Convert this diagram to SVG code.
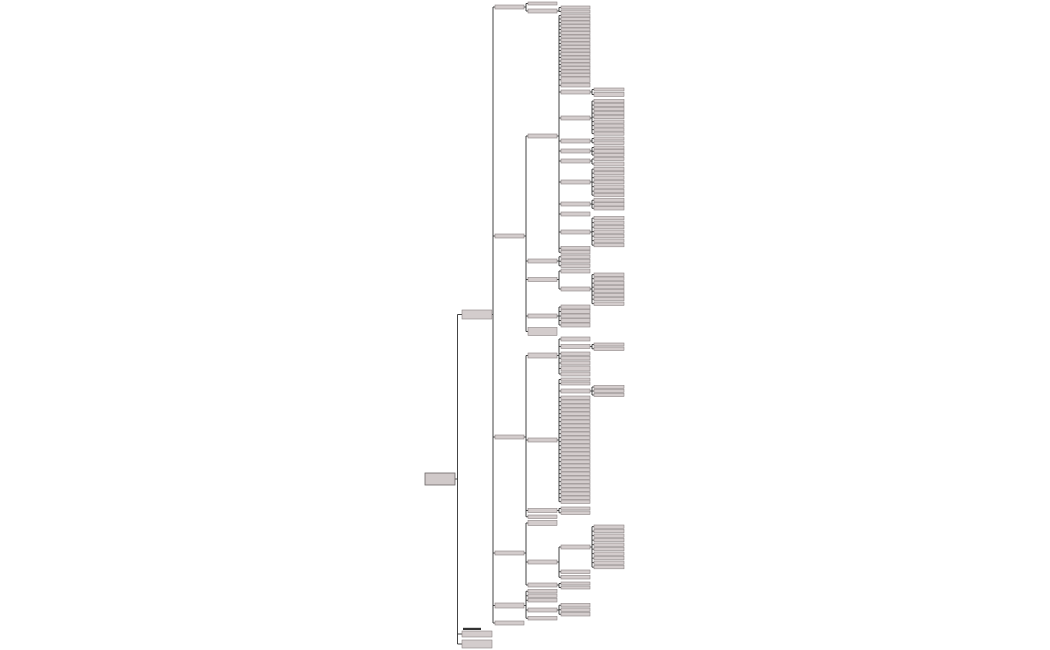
<svg xmlns="http://www.w3.org/2000/svg" width="1050" height="650" viewBox="0 0 1050 650">
<style>
.b{fill:#d3cccc;stroke:#8a8383;stroke-width:0.6}
.r{fill:#d0c9c9;stroke:#6a6565;stroke-width:0.8}
.c{fill:none;stroke:#2f2f2f;stroke-width:0.9}
</style>
<rect width="1050" height="650" fill="#ffffff"/>
<g id="connectors" class="c">
<path d="M455,479H457.5M457.5,314.5V644M457.5,314.5H462M457.5,634H462M457.5,644H462"/>
<path d="M492,314.5H493M493,7V623M493,7H495M493,236H495M493,437H495M493,553H495M493,605.5H495M493,623H495"/>
<path d="M524,7H526M526,3.5V11M526,3.5H528M526,11H528"/>
<path d="M524,236H526M526,136V331.5M526,136H528M526,261H528M526,279.5H528M526,316H528M526,331.5H528"/>
<path d="M524,437H526M526,355.5V516.75M526,355.5H528M526,440H528M526,510.5H528M526,516.75H528"/>
<path d="M524,553H526M526,523V585M526,523H528M526,562H528M526,585H528"/>
<path d="M524,605.5H526M526,591.25V618.25M526,591.25H528M526,595.75H528M526,600.25H528M526,610H528M526,618.25H528"/>
<path d="M557,11H559M559,7.5V11.5M559,7.5H561M559,11.5H561"/>
<path d="M557,136H559M559,15.5V252.25M559,15.5H561M559,19H561M559,22.5H561M559,26H561M559,29.5H561M559,33H561M559,36.5H561M559,40H561M559,43.5H561M559,47H561M559,50.5H561M559,54H561M559,57.5H561M559,61H561M559,64.5H561M559,68H561M559,71.5H561M559,75H561M559,79.75H561M559,85.25H561M559,92H561M559,118H561M559,141H561M559,151H561M559,161H561M559,182H561M559,204H561M559,214H561M559,232H561M559,248.25H561M559,252.25H561"/>
<path d="M557,261H559M559,256.75V265.75M559,256.75H561M559,261.25H561M559,265.75H561"/>
<path d="M557,279.5H559M559,271V289M559,271H561M559,289H561"/>
<path d="M557,316H559M559,307V325M559,307H561M559,311.5H561M559,316H561M559,320.5H561M559,325H561"/>
<path d="M557,355.5H559M559,339V374M559,339H561M559,346.5H561M559,353.75H561M559,358.25H561M559,363H561M559,368.5H561M559,374H561"/>
<path d="M557,440H559M559,379.5V501.65M559,379.5H561M559,383.5H561M559,391H561M559,397.65H561M559,401.65H561M559,405.65H561M559,409.65H561M559,413.65H561M559,417.65H561M559,421.65H561M559,425.65H561M559,429.65H561M559,433.65H561M559,437.65H561M559,441.65H561M559,445.65H561M559,449.65H561M559,453.65H561M559,457.65H561M559,461.65H561M559,465.65H561M559,469.65H561M559,473.65H561M559,477.65H561M559,481.65H561M559,485.65H561M559,489.65H561M559,493.65H561M559,497.65H561M559,501.65H561"/>
<path d="M557,510.5H559M559,508.5V512.75M559,508.5H561M559,512.75H561"/>
<path d="M557,562H559M559,547V577.25M559,547H561M559,571.75H561M559,577.25H561"/>
<path d="M557,585H559M559,583.5V587.5M559,583.5H561M559,587.5H561"/>
<path d="M557,610H559M559,605.25V614.25M559,605.25H561M559,609.75H561M559,614.25H561"/>
<path d="M590,92H592M592,89.5V94.5M592,89.5H594M592,94.5H594"/>
<path d="M590,118H592M592,101.1V133.6M592,101.1H594M592,105.1H594M592,109.1H594M592,113.1H594M592,117.1H594M592,121.6H594M592,125.6H594M592,129.6H594M592,133.6H594"/>
<path d="M590,141H592M592,138.5V142.75M592,138.5H594M592,142.75H594"/>
<path d="M590,151H592M592,147.5V155M592,147.5H594M592,151.25H594M592,155H594"/>
<path d="M590,161H592M592,159V164M592,159H594M592,164H594"/>
<path d="M590,182H592M592,169.15V195.15M592,169.15H594M592,173.15H594M592,177.65H594M592,182.15H594M592,186.65H594M592,191.15H594M592,195.15H594"/>
<path d="M590,204H592M592,200.25V208.25M592,200.25H594M592,204.25H594M592,208.25H594"/>
<path d="M590,232H592M592,218.15V245.15M592,218.15H594M592,222.65H594M592,227.15H594M592,231.65H594M592,236.15H594M592,240.65H594M592,245.15H594"/>
<path d="M590,289H592M592,274.65V303.65M592,274.65H594M592,278.65H594M592,283.15H594M592,287.15H594M592,291.15H594M592,295.15H594M592,299.15H594M592,303.65H594"/>
<path d="M590,346.5H592M592,344.5V348.75M592,344.5H594M592,348.75H594"/>
<path d="M590,391H592M592,387V395M592,387H594M592,391H594M592,395H594"/>
<path d="M590,547H592M592,526.65V567.15M592,526.65H594M592,531.15H594M592,535.65H594M592,540.15H594M592,544.65H594M592,549.15H594M592,553.65H594M592,558.15H594M592,562.65H594M592,567.15H594"/>
</g>
<g id="root"><rect class="r" x="425" y="473" width="30" height="12"/></g>
<g id="n1"><rect class="b" x="462" y="310" width="30" height="9"/></g>
<g id="n2"><rect x="463" y="627.8" width="18" height="2.2" fill="#333333"/><rect class="b" x="462" y="631" width="30" height="6"/></g>
<g id="n3"><rect class="b" x="462" y="640" width="30" height="8"/></g>
<g id="a1"><rect class="b" x="495" y="5" width="29" height="4"/></g>
<g id="a2"><rect class="b" x="495" y="234" width="29" height="4"/></g>
<g id="a3"><rect class="b" x="495" y="435" width="29" height="4"/></g>
<g id="a4"><rect class="b" x="495" y="551" width="29" height="4"/></g>
<g id="a5"><rect class="b" x="495" y="603" width="29" height="5"/></g>
<g id="a6"><rect class="b" x="495" y="621" width="29" height="4"/></g>
<g id="c3-1"><rect class="b" x="528" y="2" width="29" height="3"/></g>
<g id="c3-2"><rect class="b" x="528" y="9" width="29" height="4"/></g>
<g id="c3-3"><rect class="b" x="528" y="134" width="29" height="4"/></g>
<g id="c3-4"><rect class="b" x="528" y="259" width="29" height="4"/></g>
<g id="c3-5"><rect class="b" x="528" y="277.5" width="29" height="4"/></g>
<g id="c3-6"><rect class="b" x="528" y="314" width="29" height="4"/></g>
<g id="c3-7"><rect class="b" x="528" y="327.5" width="29" height="8"/></g>
<g id="c3-8"><rect class="b" x="528" y="353" width="29" height="5"/></g>
<g id="c3-9"><rect class="b" x="528" y="438" width="29" height="4"/></g>
<g id="c3-10"><rect class="b" x="528" y="508.5" width="29" height="4"/></g>
<g id="c3-11"><rect class="b" x="528" y="515" width="29" height="3.5"/></g>
<g id="c3-12"><rect class="b" x="528" y="520.5" width="29" height="5"/></g>
<g id="c3-13"><rect class="b" x="528" y="560" width="29" height="4"/></g>
<g id="c3-14"><rect class="b" x="528" y="583" width="29" height="4"/></g>
<g id="c3-15"><rect class="b" x="528" y="589.5" width="29" height="3.5"/></g>
<g id="c3-16"><rect class="b" x="528" y="594" width="29" height="3.5"/></g>
<g id="c3-17"><rect class="b" x="528" y="598.5" width="29" height="3.5"/></g>
<g id="c3-18"><rect class="b" x="528" y="608" width="29" height="4"/></g>
<g id="c3-19"><rect class="b" x="528" y="616.5" width="29" height="3.5"/></g>
<g id="c4-1"><rect class="b" x="561" y="6" width="29" height="3"/></g>
<g id="c4-2"><rect class="b" x="561" y="10" width="29" height="3"/></g>
<g id="c4-3"><rect class="b" x="561" y="14" width="29" height="3"/></g>
<g id="c4-4"><rect class="b" x="561" y="17.5" width="29" height="3"/></g>
<g id="c4-5"><rect class="b" x="561" y="21" width="29" height="3"/></g>
<g id="c4-6"><rect class="b" x="561" y="24.5" width="29" height="3"/></g>
<g id="c4-7"><rect class="b" x="561" y="28" width="29" height="3"/></g>
<g id="c4-8"><rect class="b" x="561" y="31.5" width="29" height="3"/></g>
<g id="c4-9"><rect class="b" x="561" y="35" width="29" height="3"/></g>
<g id="c4-10"><rect class="b" x="561" y="38.5" width="29" height="3"/></g>
<g id="c4-11"><rect class="b" x="561" y="42" width="29" height="3"/></g>
<g id="c4-12"><rect class="b" x="561" y="45.5" width="29" height="3"/></g>
<g id="c4-13"><rect class="b" x="561" y="49" width="29" height="3"/></g>
<g id="c4-14"><rect class="b" x="561" y="52.5" width="29" height="3"/></g>
<g id="c4-15"><rect class="b" x="561" y="56" width="29" height="3"/></g>
<g id="c4-16"><rect class="b" x="561" y="59.5" width="29" height="3"/></g>
<g id="c4-17"><rect class="b" x="561" y="63" width="29" height="3"/></g>
<g id="c4-18"><rect class="b" x="561" y="66.5" width="29" height="3"/></g>
<g id="c4-19"><rect class="b" x="561" y="70" width="29" height="3"/></g>
<g id="c4-20"><rect class="b" x="561" y="73.5" width="29" height="3"/></g>
<g id="c4-21"><rect class="b" x="561" y="77" width="29" height="5.5"/></g>
<g id="c4-22"><rect class="b" x="561" y="83.5" width="29" height="3.5"/></g>
<g id="c4-23"><rect class="b" x="561" y="90" width="29" height="4"/></g>
<g id="c4-24"><rect class="b" x="561" y="116" width="29" height="4"/></g>
<g id="c4-25"><rect class="b" x="561" y="139" width="29" height="4"/></g>
<g id="c4-26"><rect class="b" x="561" y="149" width="29" height="4"/></g>
<g id="c4-27"><rect class="b" x="561" y="159" width="29" height="4"/></g>
<g id="c4-28"><rect class="b" x="561" y="180" width="29" height="4"/></g>
<g id="c4-29"><rect class="b" x="561" y="202" width="29" height="4"/></g>
<g id="c4-30"><rect class="b" x="561" y="212" width="29" height="4"/></g>
<g id="c4-31"><rect class="b" x="561" y="230" width="29" height="4"/></g>
<g id="c4-32"><rect class="b" x="561" y="246.5" width="29" height="3.5"/></g>
<g id="c4-33"><rect class="b" x="561" y="250.5" width="29" height="3.5"/></g>
<g id="c4-34"><rect class="b" x="561" y="255" width="29" height="3.5"/></g>
<g id="c4-35"><rect class="b" x="561" y="259.5" width="29" height="3.5"/></g>
<g id="c4-36"><rect class="b" x="561" y="264" width="29" height="3.5"/></g>
<g id="c4-37"><rect class="b" x="561" y="269" width="29" height="4"/></g>
<g id="c4-38"><rect class="b" x="561" y="287" width="29" height="4"/></g>
<g id="c4-39"><rect class="b" x="561" y="305" width="29" height="4"/></g>
<g id="c4-40"><rect class="b" x="561" y="309.5" width="29" height="4"/></g>
<g id="c4-41"><rect class="b" x="561" y="314" width="29" height="4"/></g>
<g id="c4-42"><rect class="b" x="561" y="318.5" width="29" height="4"/></g>
<g id="c4-43"><rect class="b" x="561" y="323" width="29" height="4"/></g>
<g id="c4-44"><rect class="b" x="561" y="337" width="29" height="4"/></g>
<g id="c4-45"><rect class="b" x="561" y="344.5" width="29" height="4"/></g>
<g id="c4-46"><rect class="b" x="561" y="352" width="29" height="3.5"/></g>
<g id="c4-47"><rect class="b" x="561" y="356.5" width="29" height="3.5"/></g>
<g id="c4-48"><rect class="b" x="561" y="361" width="29" height="4"/></g>
<g id="c4-49"><rect class="b" x="561" y="366" width="29" height="5"/></g>
<g id="c4-50"><rect class="b" x="561" y="372" width="29" height="4"/></g>
<g id="c4-51"><rect class="b" x="561" y="378" width="29" height="3"/></g>
<g id="c4-52"><rect class="b" x="561" y="382" width="29" height="3"/></g>
<g id="c4-53"><rect class="b" x="561" y="389" width="29" height="4"/></g>
<g id="c4-54"><rect class="b" x="561" y="396" width="29" height="3.3"/></g>
<g id="c4-55"><rect class="b" x="561" y="400" width="29" height="3.3"/></g>
<g id="c4-56"><rect class="b" x="561" y="404" width="29" height="3.3"/></g>
<g id="c4-57"><rect class="b" x="561" y="408" width="29" height="3.3"/></g>
<g id="c4-58"><rect class="b" x="561" y="412" width="29" height="3.3"/></g>
<g id="c4-59"><rect class="b" x="561" y="416" width="29" height="3.3"/></g>
<g id="c4-60"><rect class="b" x="561" y="420" width="29" height="3.3"/></g>
<g id="c4-61"><rect class="b" x="561" y="424" width="29" height="3.3"/></g>
<g id="c4-62"><rect class="b" x="561" y="428" width="29" height="3.3"/></g>
<g id="c4-63"><rect class="b" x="561" y="432" width="29" height="3.3"/></g>
<g id="c4-64"><rect class="b" x="561" y="436" width="29" height="3.3"/></g>
<g id="c4-65"><rect class="b" x="561" y="440" width="29" height="3.3"/></g>
<g id="c4-66"><rect class="b" x="561" y="444" width="29" height="3.3"/></g>
<g id="c4-67"><rect class="b" x="561" y="448" width="29" height="3.3"/></g>
<g id="c4-68"><rect class="b" x="561" y="452" width="29" height="3.3"/></g>
<g id="c4-69"><rect class="b" x="561" y="456" width="29" height="3.3"/></g>
<g id="c4-70"><rect class="b" x="561" y="460" width="29" height="3.3"/></g>
<g id="c4-71"><rect class="b" x="561" y="464" width="29" height="3.3"/></g>
<g id="c4-72"><rect class="b" x="561" y="468" width="29" height="3.3"/></g>
<g id="c4-73"><rect class="b" x="561" y="472" width="29" height="3.3"/></g>
<g id="c4-74"><rect class="b" x="561" y="476" width="29" height="3.3"/></g>
<g id="c4-75"><rect class="b" x="561" y="480" width="29" height="3.3"/></g>
<g id="c4-76"><rect class="b" x="561" y="484" width="29" height="3.3"/></g>
<g id="c4-77"><rect class="b" x="561" y="488" width="29" height="3.3"/></g>
<g id="c4-78"><rect class="b" x="561" y="492" width="29" height="3.3"/></g>
<g id="c4-79"><rect class="b" x="561" y="496" width="29" height="3.3"/></g>
<g id="c4-80"><rect class="b" x="561" y="500" width="29" height="3.3"/></g>
<g id="c4-81"><rect class="b" x="561" y="507" width="29" height="3"/></g>
<g id="c4-82"><rect class="b" x="561" y="511" width="29" height="3.5"/></g>
<g id="c4-83"><rect class="b" x="561" y="545" width="29" height="4"/></g>
<g id="c4-84"><rect class="b" x="561" y="570" width="29" height="3.5"/></g>
<g id="c4-85"><rect class="b" x="561" y="575.5" width="29" height="3.5"/></g>
<g id="c4-86"><rect class="b" x="561" y="582" width="29" height="3"/></g>
<g id="c4-87"><rect class="b" x="561" y="586" width="29" height="3"/></g>
<g id="c4-88"><rect class="b" x="561" y="603.5" width="29" height="3.5"/></g>
<g id="c4-89"><rect class="b" x="561" y="608" width="29" height="3.5"/></g>
<g id="c4-90"><rect class="b" x="561" y="612.5" width="29" height="3.5"/></g>
<g id="c5-1"><rect class="b" x="594" y="88" width="30" height="3"/></g>
<g id="c5-2"><rect class="b" x="594" y="92.5" width="30" height="4"/></g>
<g id="c5-3"><rect class="b" x="594" y="99.5" width="30" height="3.2"/></g>
<g id="c5-4"><rect class="b" x="594" y="103.5" width="30" height="3.2"/></g>
<g id="c5-5"><rect class="b" x="594" y="107.5" width="30" height="3.2"/></g>
<g id="c5-6"><rect class="b" x="594" y="111.5" width="30" height="3.2"/></g>
<g id="c5-7"><rect class="b" x="594" y="115.5" width="30" height="3.2"/></g>
<g id="c5-8"><rect class="b" x="594" y="120" width="30" height="3.2"/></g>
<g id="c5-9"><rect class="b" x="594" y="124" width="30" height="3.2"/></g>
<g id="c5-10"><rect class="b" x="594" y="128" width="30" height="3.2"/></g>
<g id="c5-11"><rect class="b" x="594" y="132" width="30" height="3.2"/></g>
<g id="c5-12"><rect class="b" x="594" y="137" width="30" height="3"/></g>
<g id="c5-13"><rect class="b" x="594" y="141" width="30" height="3.5"/></g>
<g id="c5-14"><rect class="b" x="594" y="146" width="30" height="3"/></g>
<g id="c5-15"><rect class="b" x="594" y="149.5" width="30" height="3.5"/></g>
<g id="c5-16"><rect class="b" x="594" y="153.5" width="30" height="3"/></g>
<g id="c5-17"><rect class="b" x="594" y="157.5" width="30" height="3"/></g>
<g id="c5-18"><rect class="b" x="594" y="162" width="30" height="4"/></g>
<g id="c5-19"><rect class="b" x="594" y="167.5" width="30" height="3.3"/></g>
<g id="c5-20"><rect class="b" x="594" y="171.5" width="30" height="3.3"/></g>
<g id="c5-21"><rect class="b" x="594" y="176" width="30" height="3.3"/></g>
<g id="c5-22"><rect class="b" x="594" y="180.5" width="30" height="3.3"/></g>
<g id="c5-23"><rect class="b" x="594" y="185" width="30" height="3.3"/></g>
<g id="c5-24"><rect class="b" x="594" y="189.5" width="30" height="3.3"/></g>
<g id="c5-25"><rect class="b" x="594" y="193.5" width="30" height="3.3"/></g>
<g id="c5-26"><rect class="b" x="594" y="198.5" width="30" height="3.5"/></g>
<g id="c5-27"><rect class="b" x="594" y="202.5" width="30" height="3.5"/></g>
<g id="c5-28"><rect class="b" x="594" y="206.5" width="30" height="3.5"/></g>
<g id="c5-29"><rect class="b" x="594" y="216.5" width="30" height="3.3"/></g>
<g id="c5-30"><rect class="b" x="594" y="221" width="30" height="3.3"/></g>
<g id="c5-31"><rect class="b" x="594" y="225.5" width="30" height="3.3"/></g>
<g id="c5-32"><rect class="b" x="594" y="230" width="30" height="3.3"/></g>
<g id="c5-33"><rect class="b" x="594" y="234.5" width="30" height="3.3"/></g>
<g id="c5-34"><rect class="b" x="594" y="239" width="30" height="3.3"/></g>
<g id="c5-35"><rect class="b" x="594" y="243.5" width="30" height="3.3"/></g>
<g id="c5-36"><rect class="b" x="594" y="273" width="30" height="3.3"/></g>
<g id="c5-37"><rect class="b" x="594" y="277" width="30" height="3.3"/></g>
<g id="c5-38"><rect class="b" x="594" y="281.5" width="30" height="3.3"/></g>
<g id="c5-39"><rect class="b" x="594" y="285.5" width="30" height="3.3"/></g>
<g id="c5-40"><rect class="b" x="594" y="289.5" width="30" height="3.3"/></g>
<g id="c5-41"><rect class="b" x="594" y="293.5" width="30" height="3.3"/></g>
<g id="c5-42"><rect class="b" x="594" y="297.5" width="30" height="3.3"/></g>
<g id="c5-43"><rect class="b" x="594" y="302" width="30" height="3.3"/></g>
<g id="c5-44"><rect class="b" x="594" y="343" width="30" height="3"/></g>
<g id="c5-45"><rect class="b" x="594" y="347" width="30" height="3.5"/></g>
<g id="c5-46"><rect class="b" x="594" y="385.5" width="30" height="3"/></g>
<g id="c5-47"><rect class="b" x="594" y="389.5" width="30" height="3"/></g>
<g id="c5-48"><rect class="b" x="594" y="393.5" width="30" height="3"/></g>
<g id="c5-49"><rect class="b" x="594" y="525" width="30" height="3.3"/></g>
<g id="c5-50"><rect class="b" x="594" y="529.5" width="30" height="3.3"/></g>
<g id="c5-51"><rect class="b" x="594" y="534" width="30" height="3.3"/></g>
<g id="c5-52"><rect class="b" x="594" y="538.5" width="30" height="3.3"/></g>
<g id="c5-53"><rect class="b" x="594" y="543" width="30" height="3.3"/></g>
<g id="c5-54"><rect class="b" x="594" y="547.5" width="30" height="3.3"/></g>
<g id="c5-55"><rect class="b" x="594" y="552" width="30" height="3.3"/></g>
<g id="c5-56"><rect class="b" x="594" y="556.5" width="30" height="3.3"/></g>
<g id="c5-57"><rect class="b" x="594" y="561" width="30" height="3.3"/></g>
<g id="c5-58"><rect class="b" x="594" y="565.5" width="30" height="3.3"/></g>
</svg>
